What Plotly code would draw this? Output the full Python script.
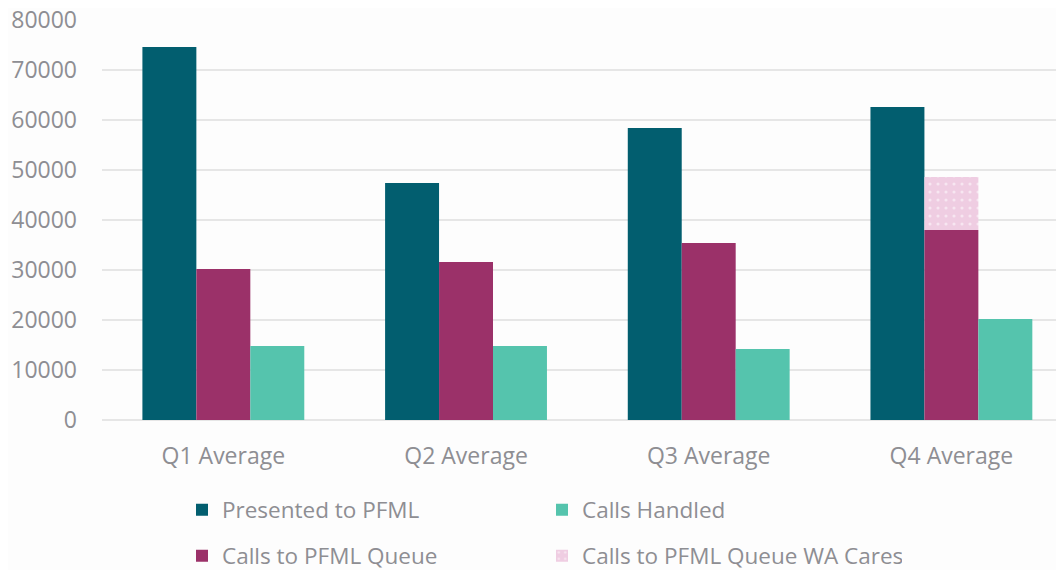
import plotly.graph_objects as go

categories = ["Q1 Average", "Q2 Average", "Q3 Average", "Q4 Average"]
presented = [74600, 47400, 58400, 62600]
queue = [30200, 31600, 35400, 38000]
wa_cares = [None, None, None, 10600]
handled = [14800, 14800, 14200, 20200]
y_ticks = [0, 10000, 20000, 30000, 40000, 50000, 60000, 70000, 80000]

C_PRES = "#025e6f"
C_QUEUE = "#9b3169"
C_HAND = "#55c4ad"
C_WA = "#efcde2"
FONT = "Open Sans"
GRAY = "#8e8e93"

W, H = 1056, 562  # page body has an 8px offset

fig = go.Figure()
fig.add_trace(go.Bar(name="Presented to PFML", x=categories, y=presented,
                     offsetgroup="a", marker=dict(color=C_PRES, line=dict(width=0)),
                     legend="legend"))
fig.add_trace(go.Bar(name="Calls to PFML Queue", x=categories, y=queue,
                     offsetgroup="b", marker=dict(color=C_QUEUE, line=dict(width=0)),
                     legend="legend2"))
fig.add_trace(go.Bar(name="Calls Handled", x=categories, y=handled,
                     offsetgroup="c", marker=dict(color=C_HAND, line=dict(width=0)),
                     legend="legend"))
fig.add_trace(go.Bar(name="Calls to PFML Queue WA Cares", x=categories, y=wa_cares,
                     base=queue, offsetgroup="b",
                     marker=dict(color=C_WA, line=dict(width=0),
                                 pattern=dict(shape=".", fgcolor="white", bgcolor=C_WA,
                                              size=8, solidity=0.12)),
                     legend="legend2"))

legend_common = dict(orientation="h", xref="container", yref="container",
                     xanchor="left", yanchor="middle",
                     font=dict(family=FONT, size=22.5, color=GRAY),
                     entrywidth=315, entrywidthmode="pixels",
                     bgcolor="rgba(0,0,0,0)", traceorder="normal")

fig.update_layout(
    width=W, height=H,
    margin=dict(l=94, r=0, t=12, b=150, autoexpand=False),
    paper_bgcolor="#fdfdfd", plot_bgcolor="#fdfdfd",
    barmode="group", bargap=0.333, bargroupgap=0,
    font=dict(family=FONT, size=22, color=GRAY),
    legend=dict(x=174 / W, y=1 - 502 / H, **legend_common),
    legend2=dict(x=174 / W, y=1 - 548 / H, **legend_common),
    xaxis=dict(range=[-0.5, 3.464], showgrid=False, showline=False, zeroline=False,
               automargin=False,
               ticklabelstandoff=20, tickfont=dict(size=23, color=GRAY)),
    yaxis=dict(range=[0, 80020], tickmode="array", tickvals=y_ticks,
               ticktext=[str(v) for v in y_ticks], automargin=False,
               showgrid=True, gridcolor="#e6e6e6",
               gridwidth=2, zeroline=True, zerolinecolor="#e6e6e6", zerolinewidth=2,
               showline=False, ticklabelstandoff=24, ticklabeloverflow="allow",
               tickfont=dict(size=23, color=GRAY)),
)

fig.write_html("out.html", config={"displayModeBar": False})
